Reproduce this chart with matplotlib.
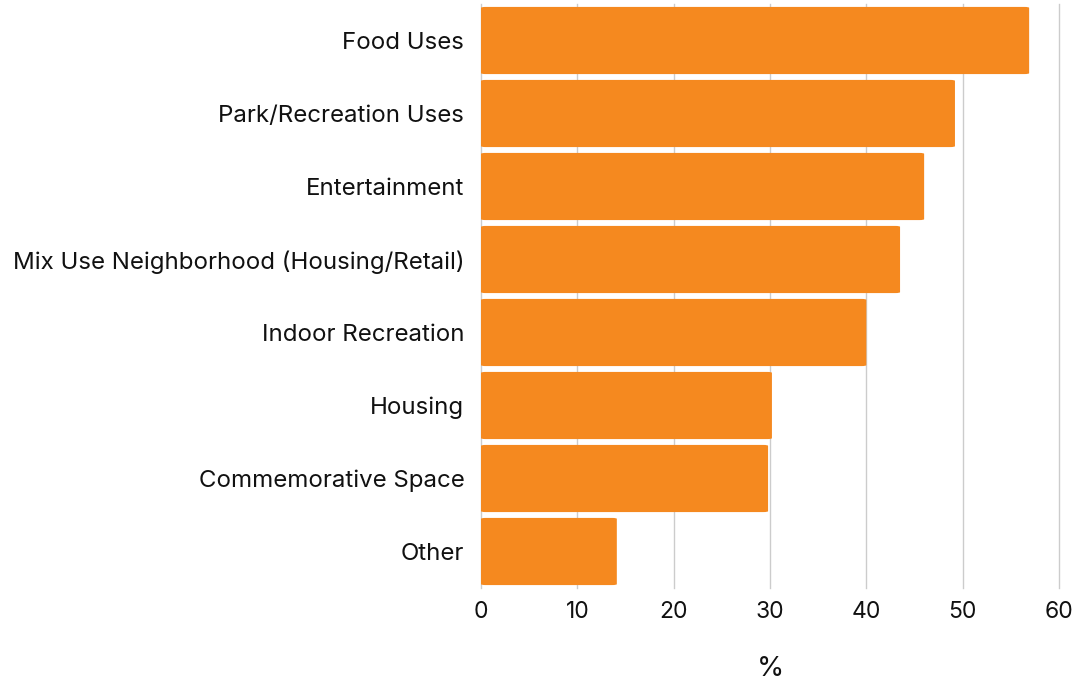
import matplotlib

matplotlib.use("Agg")
import matplotlib.pyplot as plt
from matplotlib.patches import FancyBboxPatch

# Share of respondents who picked each use
categories = [
    "Food Uses",
    "Park/Recreation Uses",
    "Entertainment",
    "Mix Use Neighborhood (Housing/Retail)",
    "Indoor Recreation",
    "Housing",
    "Commemorative Space",
    "Other",
]
percent = [56.9, 49.2, 46.0, 43.5, 40.0, 30.2, 29.8, 14.1]
x_ticks = [0, 10, 20, 30, 40, 50, 60]

ORANGE = "#F5891F"
GRID = "#cccccc"
TEXT = "#111111"

plt.rcParams["font.family"] = ["Inter", "DejaVu Sans"]

fig = plt.figure(figsize=(10.78, 6.85), dpi=100)
ax = fig.add_axes([481 / 1078, 97 / 685, 578 / 1078, 584 / 685])

ypos = list(range(len(categories)))
bars = ax.barh(ypos, percent, height=0.92, color=ORANGE, zorder=2)

# swap plain rectangles for ones with slightly rounded corners
for b in bars:
    x0, y0 = b.get_x(), b.get_y()
    w, h = b.get_width(), b.get_height()
    b.set_visible(False)
    ax.add_patch(FancyBboxPatch(
        (x0, y0), w, h,
        boxstyle="round,pad=0,rounding_size=0.5",
        mutation_aspect=0.025,
        facecolor=ORANGE, edgecolor="none", zorder=2,
    ))

ax.set_xlim(0, 60)
ax.set_ylim(len(categories) - 0.5, -0.5)
ax.set_xticks(x_ticks)
ax.set_yticks(ypos)
ax.set_yticklabels(categories)
ax.tick_params(axis="y", length=0, labelsize=17.3, colors=TEXT, pad=12)
ax.tick_params(axis="x", length=0, labelsize=16.5, colors=TEXT, pad=9)
ax.grid(axis="x", color=GRID, linewidth=1, zorder=0)
for gl in ax.get_xgridlines():
    gl.set_clip_on(False)
for s in ax.spines.values():
    s.set_visible(False)
ax.set_xlabel("%", fontsize=20, color=TEXT, labelpad=24)

fig.savefig("out.png", dpi=100)
